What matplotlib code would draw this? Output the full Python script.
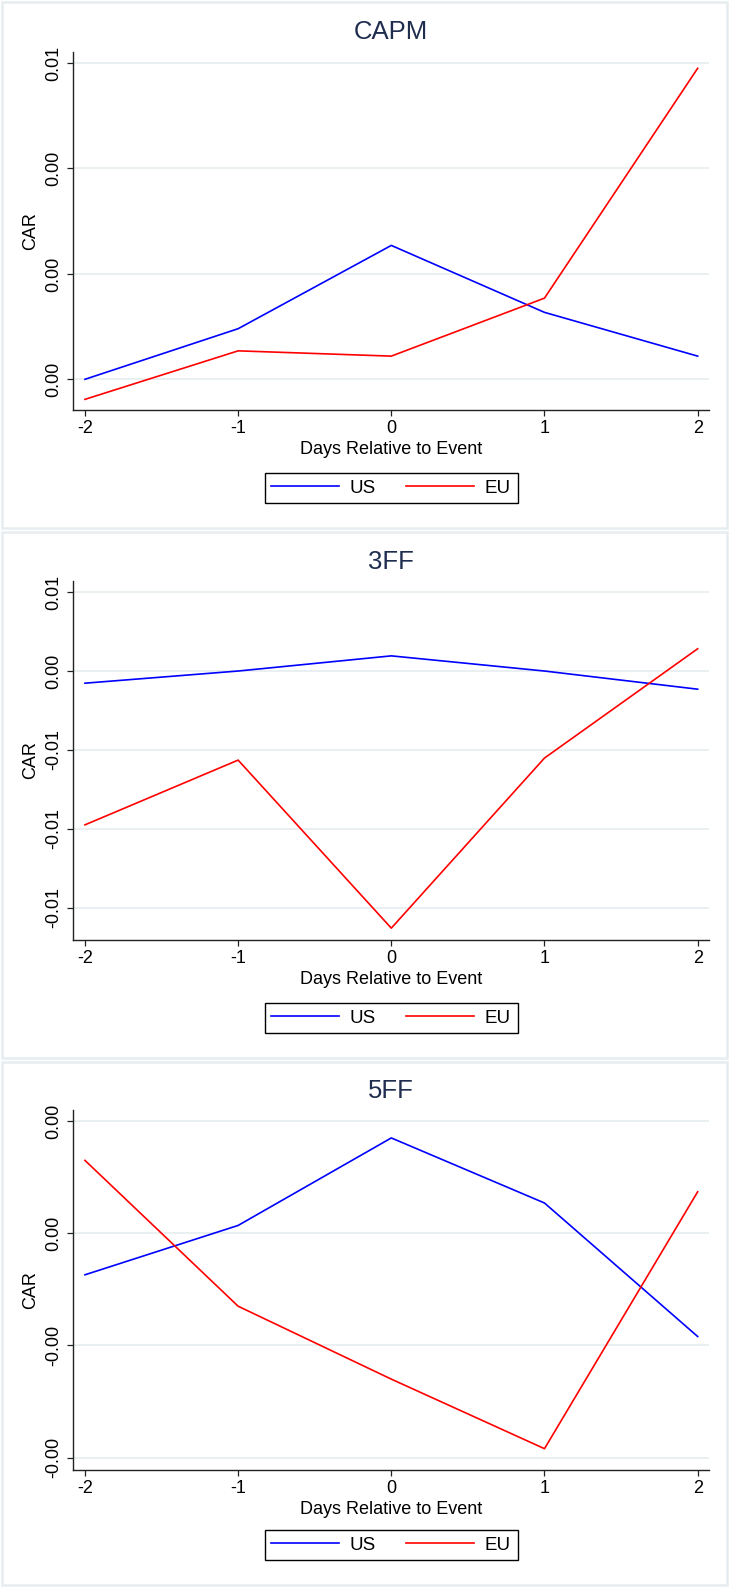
import matplotlib.pyplot as plt
from matplotlib.patches import Rectangle
import numpy as np

plt.rcParams["font.family"] = ["Liberation Sans", "DejaVu Sans"]

################################################################################
# Data.                                           #
################################################################################
days = [-2, -1, 0, 1, 2]

capm_us = [0.0, 0.00096, 0.00254, 0.00127, 0.00044]
capm_eu = [-0.00038, 0.00054, 0.00044, 0.00154, 0.0059]
capm_ticks = [0.0, 0.002, 0.004, 0.006]

ff3_us = [-0.00077, 0.0, 0.00096, 0.0, -0.00115]
ff3_eu = [-0.00974, -0.00564, -0.01628, -0.00551, 0.00141]
ff3_ticks = [0.005, 0.0, -0.005, -0.010, -0.015]

ff5_us = [-0.00037, 0.00007, 0.00085, 0.00027, -0.00092]
ff5_eu = [0.00065, -0.00065, -0.0013, -0.00192, 0.00037]
ff5_ticks = [0.001, 0.0, -0.001, -0.002]

titles = ["CAPM", "3FF", "5FF"]

################################################################################
# Layout (pixel positions in a 729 x 1587 canvas).                             #
################################################################################
W, H = 729, 1587
fig = plt.figure(figsize=(W / 100, H / 100), dpi=100)

panels = [
    # (panel top, panel bottom, axes top, axes bottom, ylim, title y, legend y)
    (2, 528, 52, 410, (-0.000582, 0.006209), 32, 488),
    (532, 1058, 581, 940, (-0.01703, 0.0057), 562, 1018),
    (1062, 1585, 1110, 1470, (-0.00211, 0.001099), 1091, 1545),
]
series = [(capm_us, capm_eu, capm_ticks), (ff3_us, ff3_eu, ff3_ticks), (ff5_us, ff5_eu, ff5_ticks)]

ax_left, ax_right = 73, 709
grid_col = "#e6edf0"
title_col = "#1f2d4e"

for (ptop, pbot, atop, abot, ylim, ty, ly), (us, eu, ticks), title in zip(panels, series, titles):
    fig.patches.append(
        Rectangle((2 / W, 1 - pbot / H), (W - 4) / W, (pbot - ptop) / H,
                  transform=fig.transFigure, facecolor="none",
                  edgecolor=grid_col, linewidth=1.8, zorder=-1)
    )
    ax = fig.add_axes([ax_left / W, 1 - abot / H, (ax_right - ax_left) / W, (abot - atop) / H])
    ax.patch.set_alpha(0)
    l1, = ax.plot(days, us, color="#0000ff", lw=1.2, label="US")
    l2, = ax.plot(days, eu, color="#ff0000", lw=1.2, label="EU")

    ax.set_xlim(-2.078, 2.074)
    ax.set_ylim(ylim)
    ax.set_xticks(days)
    ax.set_xticklabels([str(d) for d in days])
    ax.set_yticks(ticks)
    ax.set_yticklabels([f"{t:.2f}" for t in ticks], rotation=90, va="center")
    ax.yaxis.grid(True, color=grid_col, lw=1.2)
    ax.set_axisbelow(True)
    for s in ["top", "right"]:
        ax.spines[s].set_visible(False)
    for s in ["left", "bottom"]:
        ax.spines[s].set_color("#222222")
        ax.spines[s].set_linewidth(1.0)
    ax.tick_params(labelsize=13, length=4, width=0.9, color="#222222", pad=3)
    ax.tick_params(axis="y", pad=4)

    ax.set_xlabel("Days Relative to Event", fontsize=13)
    ax.xaxis.set_label_coords(0.5, -40 / (abot - atop))
    ax.xaxis.label.set_va("center")
    ax.set_ylabel("CAR", fontsize=13)
    ax.yaxis.set_label_coords(-42.5 / (ax_right - ax_left), 0.5)
    ax.yaxis.label.set_va("center")

    fig.text(391 / W, 1 - ty / H, title, fontsize=18.5, color=title_col, ha="center", va="center")

    leg = fig.legend(handles=[l1, l2], loc="center", bbox_to_anchor=(391 / W, 1 - ly / H),
                     ncol=2, fontsize=13.5, frameon=True, fancybox=False, framealpha=1,
                     handlelength=3.6, handletextpad=0.6, columnspacing=1.6,
                     borderpad=0.35)
    leg.get_frame().set_edgecolor("black")
    leg.get_frame().set_linewidth(1.0)

fig.savefig("out.png", dpi=100)
